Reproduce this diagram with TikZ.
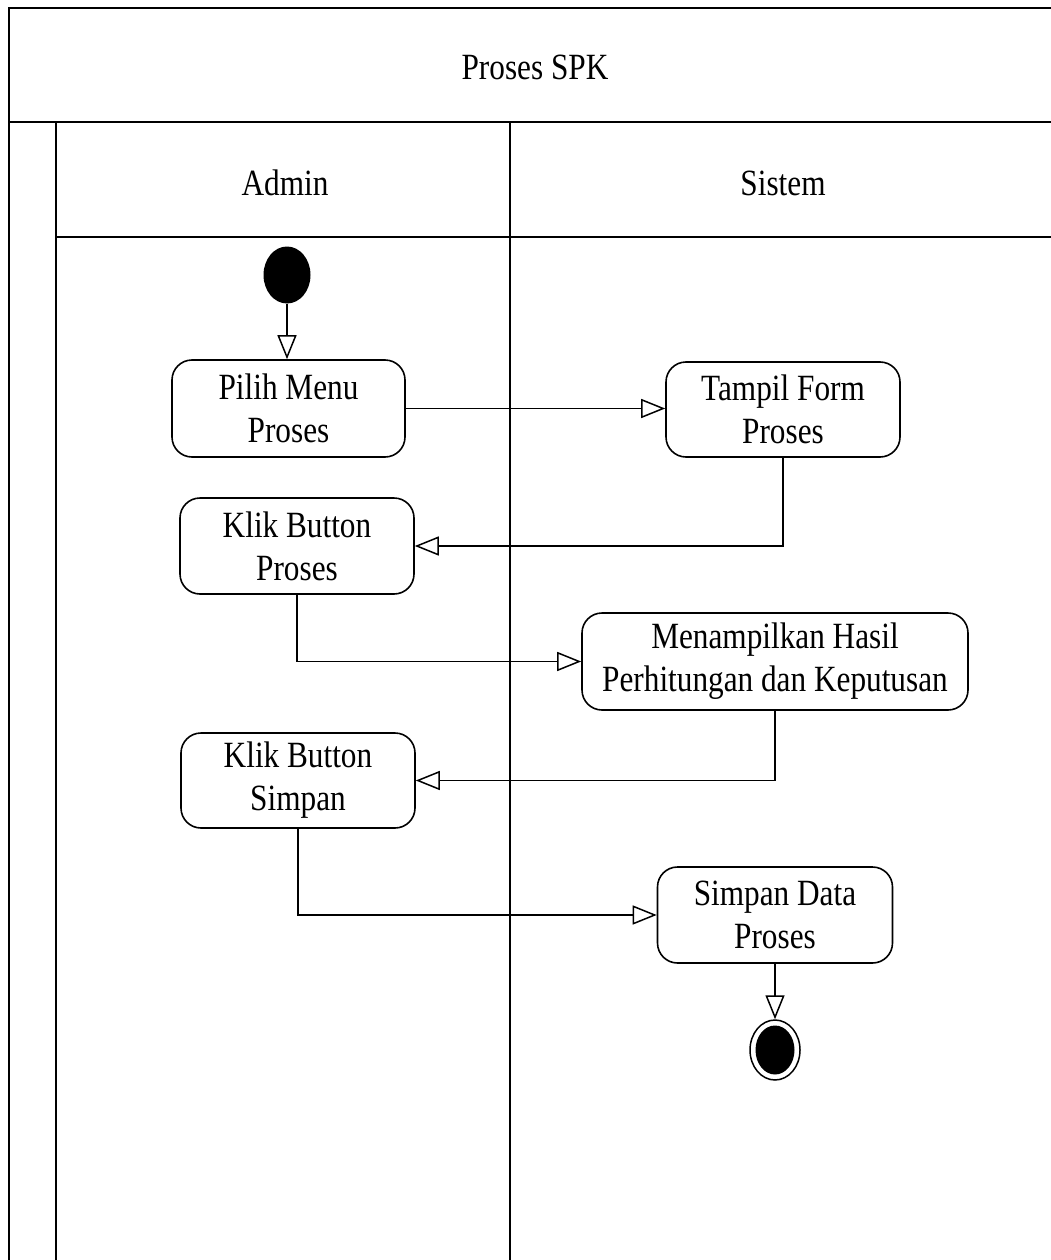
\documentclass[tikz,border=0pt]{standalone}
\usepackage{fontspec}
\setmainfont[FakeStretch=0.845]{Liberation Serif}
\usetikzlibrary{arrows.meta,shapes.geometric}
\tikzset{
  lane/.style={line width=2pt, line cap=rect},
  act/.style={draw, line width=1.6pt, rounded corners=20pt, align=center, inner sep=0pt,
    font=\fontsize{37}{43}\selectfont},
  lbl/.style={inner sep=0pt, font=\fontsize{37}{43}\selectfont},
  flow/.style={line width=1.5pt, -{Triangle[open, length=24pt, width=19pt, line width=1.5pt]}},
}
\begin{document}
\begin{tikzpicture}[x=1pt, y=-1pt]
\useasboundingbox (0,0) rectangle (1051,1260);
% swimlane frame
\draw[lane] (1060,8) -- (9,8) -- (9,1270);
\draw[lane] (9,122) -- (1060,122);
\draw[lane] (56,122) -- (56,1270);
\draw[lane] (56,237) -- (1060,237);
\draw[lane] (510,122) -- (510,1270);
% headers
\node[lbl] (title) at (535,67) {Proses SPK};
\node[lbl] (admin) at (285,183) {Admin};
\node[lbl] (sistem) at (783,183) {Sistem};
% start / end
\node[ellipse, fill=black, minimum width=47pt, minimum height=57pt, inner sep=0pt] (start) at (287,275) {};
\node[ellipse, draw, line width=1.5pt, minimum width=50pt, minimum height=60pt, inner sep=0pt] (end) at (775,1050) {};
\fill (end.center) ellipse [x radius=19.5pt, y radius=24.5pt];
% activities
\node[act, minimum width=233pt, minimum height=97pt] (pilih) at (288.5,408.5) {Pilih Menu\\Proses};
\node[act, minimum width=234pt, minimum height=95pt] (tampil) at (783,409.5) {Tampil Form\\Proses};
\node[act, minimum width=234pt, minimum height=96pt] (klikp) at (297,546) {Klik Button\\Proses};
\node[act, minimum width=386pt, minimum height=97pt] (hasil) at (775,661.5) {Menampilkan Hasil\\Perhitungan dan Keputusan};
\node[act, minimum width=234pt, minimum height=95pt] (kliks) at (298,780.5) {Klik Button\\Simpan};
\node[act, minimum width=235pt, minimum height=96pt] (simpan) at (775,915) {Simpan Data\\Proses};
% flows
\draw[flow] (start.south) -- (start.south |- pilih.north);
\draw[flow] (pilih.east) -- (pilih.east -| tampil.west);
\draw[flow] (tampil.south) |- (klikp.east);
\draw[flow] (klikp.south) |- (hasil.west);
\draw[flow] (hasil.south) |- (kliks.east);
\draw[flow] (kliks.south) |- (simpan.west);
\draw[flow] (simpan.south) -- (end.north);
\end{tikzpicture}
\end{document}
